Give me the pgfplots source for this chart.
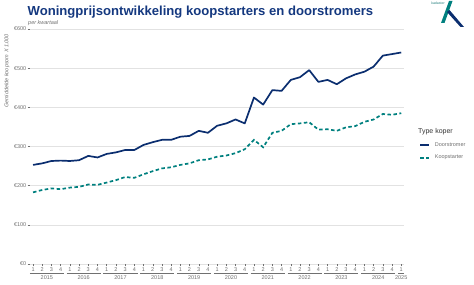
\documentclass[border=0pt]{standalone}
\usepackage{fontspec}
\setmainfont{Liberation Sans}
\usepackage{pgfplots}
\usepackage{pgfplotstable}
\pgfplotsset{compat=1.18}

\definecolor{navy}{HTML}{0B2E6F}
\definecolor{tealline}{HTML}{00807F}
\definecolor{titleblue}{HTML}{14387F}
\definecolor{txtgray}{HTML}{707070}
\definecolor{gridgray}{HTML}{E2E2E2}

% average purchase price (x 1,000 euro) per quarter, 2015 Q1 = 0
\pgfplotstableread{
q door koop
0  253 183
1  257 189
2  263 193
3  264 191
4  263 195
5  265 197
6  276 203
7  272 202
8  281 208
9  285 214
10 291 222
11 291 220
12 304 229
13 311 237
14 317 244
15 317 247
16 325 253
17 327 257
18 340 265
19 335 267
20 353 274
21 359 277
22 369 283
23 359 293
24 425 317
25 407 298
26 444 335
27 442 340
28 470 357
29 477 359
30 495 362
31 465 343
32 470 344
33 459 340
34 474 349
35 484 352
36 491 363
37 504 369
38 532 383
39 536 381
40 540 385
}\prices

\begin{document}
\begin{tikzpicture}[x=1pt,y=1pt]
\useasboundingbox (0pt,0pt) rectangle (474pt,284pt);

\begin{axis}[
  at={(33.04pt,20pt)}, anchor=origin,
  scale only axis, width=374pt, height=235pt,
  xmin=-0.33, xmax=40.3, ymin=0, ymax=600,
  clip=false,
  axis line style={draw=none},
  ymajorgrids, grid style={gridgray, line width=0.6pt},
  ytick={0,100,...,600},
  yticklabels={€0,€100,€200,€300,€400,€500,€600},
  xtick={0,...,40},
  xticklabels={1,2,3,4,1,2,3,4,1,2,3,4,1,2,3,4,1,2,3,4,1,2,3,4,1,2,3,4,1,2,3,4,1,2,3,4,1,2,3,4,1},
  xtick pos=bottom, ytick pos=left,
  tick align=outside, major tick length=2.5pt,
  tick style={txtgray, line width=0.4pt},
  ticklabel style={font=\fontsize{5.5}{6}\selectfont, text=txtgray},
  xticklabel style={inner sep=1pt},
  yticklabel style={inner sep=1pt},
  legend style={at={(1.04,0.527)}, anchor=north west, draw=none, fill=none,
    font=\fontsize{5.5}{6}\selectfont, text=txtgray, row sep=3.5pt, inner sep=0pt,
    /tikz/every odd column/.append style={column sep=3pt}},
  legend cell align=left,
  legend image code/.code={\draw[#1] (0pt,0pt) -- (9pt,0pt);},
]
\addplot[navy, line width=1.7pt, line join=round] table[x=q, y=door] {\prices};
\addlegendentry{Doorstromer}
\addplot[tealline, line width=1.7pt, dash pattern=on 3.5pt off 2.5pt] table[x=q, y=koop] {\prices};
\addlegendentry{Koopstarter}

% year groups below the quarter labels
\pgfplotsinvokeforeach{0,...,9}{
  \draw[txtgray, line width=0.35pt] ([yshift=-9pt]axis cs:{4*#1-0.35},0) -- ([yshift=-9pt]axis cs:{4*#1+3.35},0);
}
\draw[txtgray, line width=0.35pt] ([yshift=-9pt]axis cs:39.65,0) -- ([yshift=-9pt]axis cs:40.35,0);
\begin{scope}[every node/.style={font=\fontsize{5.5}{6}\selectfont, text=txtgray}]
\node at ([yshift=-13.8pt]axis cs:1.5,0) {2015};
\node at ([yshift=-13.8pt]axis cs:5.5,0) {2016};
\node at ([yshift=-13.8pt]axis cs:9.5,0) {2017};
\node at ([yshift=-13.8pt]axis cs:13.5,0) {2018};
\node at ([yshift=-13.8pt]axis cs:17.5,0) {2019};
\node at ([yshift=-13.8pt]axis cs:21.5,0) {2020};
\node at ([yshift=-13.8pt]axis cs:25.5,0) {2021};
\node at ([yshift=-13.8pt]axis cs:29.5,0) {2022};
\node at ([yshift=-13.8pt]axis cs:33.5,0) {2023};
\node at ([yshift=-13.8pt]axis cs:37.5,0) {2024};
\node at ([yshift=-13.8pt]axis cs:40,0) {2025};
\end{scope}
\end{axis}

% titles
\node[anchor=west, inner sep=0pt, font=\bfseries\fontsize{13.1}{15}\selectfont, text=titleblue]
  at (27.5pt,272pt) {Woningprijsontwikkeling koopstarters en doorstromers};
\node[anchor=west, inner sep=0pt, font=\itshape\fontsize{5.5}{6}\selectfont, text=txtgray]
  at (28pt,261pt) {per kwartaal};
\node[rotate=90, inner sep=0pt, font=\itshape\fontsize{5.5}{6}\selectfont, text=txtgray]
  at (7pt,213pt) {Gemiddelde koopsom X 1.000};
\node[anchor=west, inner sep=0pt, font=\fontsize{7}{8}\selectfont, text=black!80]
  at (418pt,152pt) {Type koper};

% logo
\node[inner sep=0pt, font=\fontsize{3.5}{4}\selectfont, text=tealline!70!gray] at (438pt,280.5pt) {kadaster};
\fill[tealline] (449pt,283pt) -- (452.5pt,283pt) -- (444.5pt,261pt) -- (441pt,261pt) -- cycle;
\fill[navy] (447pt,272pt) -- (449.5pt,274pt) -- (464pt,257pt) -- (460.5pt,257pt) -- cycle;
\end{tikzpicture}
\end{document}
